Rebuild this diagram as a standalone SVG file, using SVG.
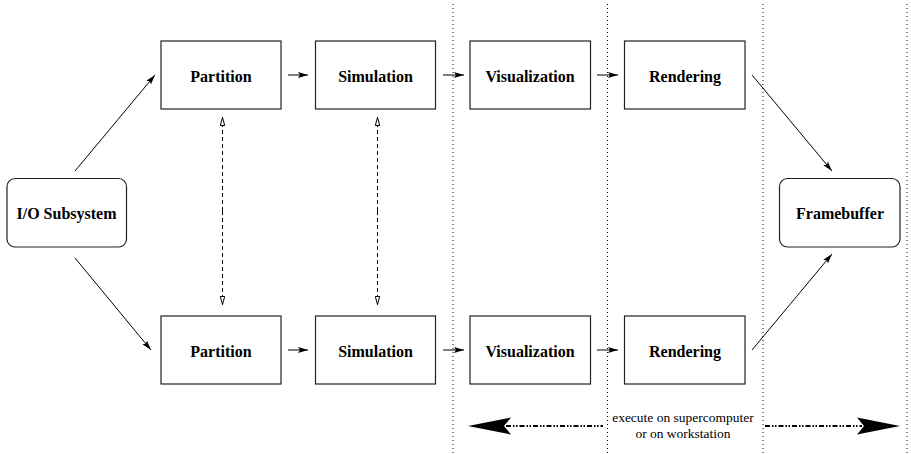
<svg xmlns="http://www.w3.org/2000/svg" width="911" height="454" viewBox="0 0 911 454">
<style>
.box{fill:#fff;stroke:#222;stroke-width:1.2}
.lbl{font-family:"Liberation Serif",serif;font-weight:bold;font-size:16px;text-anchor:middle;fill:#000}
.note{font-family:"Liberation Serif",serif;font-size:13.5px;text-anchor:middle;fill:#000}
.c{stroke:#000;stroke-width:1;fill:none}
.dash{stroke:#000;stroke-width:1;fill:none;stroke-dasharray:4 3}
.dot{stroke:#000;stroke-width:1;fill:none;stroke-dasharray:1 3}
.dd{stroke:#000;stroke-width:2.2;fill:none;stroke-dasharray:5 2 1.5 1.5 1.5 2}
</style>
<defs>
<marker id="ah" markerUnits="userSpaceOnUse" markerWidth="12" markerHeight="8" refX="10" refY="3.5" orient="auto">
<path d="M0,0.5 L10,3.5 L0,6.5 L2,3.5 Z" fill="#000"/>
</marker>
<marker id="oh" markerUnits="userSpaceOnUse" markerWidth="10" markerHeight="8" refX="9" refY="3" orient="auto">
<path d="M0.5,0.8 L8.5,3 L0.5,5.2 Z" fill="#fff" stroke="#000" stroke-width="1"/>
</marker>
</defs>
<g id="separators">
<line class="dot" x1="453" y1="4" x2="453" y2="454"/>
<line class="dot" x1="607.5" y1="4" x2="607.5" y2="454"/>
<line class="dot" x1="763" y1="4" x2="763" y2="454"/>
<line class="dot" x1="907" y1="4" x2="907" y2="454"/>
</g>
<g id="connectors">
<line class="c" x1="75" y1="171" x2="155" y2="75" marker-end="url(#ah)"/>
<line class="c" x1="75" y1="258" x2="151" y2="350" marker-end="url(#ah)"/>
<line class="c" x1="752" y1="75" x2="832" y2="171" marker-end="url(#ah)"/>
<line class="c" x1="752" y1="350" x2="832" y2="254" marker-end="url(#ah)"/>
<line class="c" x1="288" y1="75" x2="308" y2="75" marker-end="url(#ah)"/>
<line class="c" x1="443" y1="75" x2="464" y2="75" marker-end="url(#ah)"/>
<line class="c" x1="597" y1="75" x2="618" y2="75" marker-end="url(#ah)"/>
<line class="c" x1="288" y1="350" x2="308" y2="350" marker-end="url(#ah)"/>
<line class="c" x1="443" y1="350" x2="464" y2="350" marker-end="url(#ah)"/>
<line class="c" x1="597" y1="350" x2="618" y2="350" marker-end="url(#ah)"/>
<line class="dash" x1="222.5" y1="211" x2="222.5" y2="117" marker-end="url(#oh)"/>
<line class="dash" x1="222.5" y1="211" x2="222.5" y2="305" marker-end="url(#oh)"/>
<line class="dash" x1="377.5" y1="211" x2="377.5" y2="117" marker-end="url(#oh)"/>
<line class="dash" x1="377.5" y1="211" x2="377.5" y2="305" marker-end="url(#oh)"/>
<line class="dd" x1="506" y1="426" x2="603" y2="426"/>
<polygon points="468,426 511,417.5 504,426 511,434.5" fill="#000"/>
<line class="dd" x1="765" y1="426" x2="862" y2="426"/>
<polygon points="900,426 857,417.5 864,426 857,434.5" fill="#000"/>
</g>
<g id="io">
<rect class="box" x="7" y="178.5" width="119.5" height="68.5" rx="8"/>
<text class="lbl" x="66.5" y="219">I/O Subsystem</text>
</g>
<g id="partition1">
<rect class="box" x="161" y="41" width="120" height="68"/>
<text class="lbl" x="221" y="81.5">Partition</text>
</g>
<g id="simulation1">
<rect class="box" x="315.5" y="41" width="120" height="68"/>
<text class="lbl" x="375.5" y="81.5">Simulation</text>
</g>
<g id="visualization1">
<rect class="box" x="470" y="41" width="120.5" height="68"/>
<text class="lbl" x="530" y="81.5">Visualization</text>
</g>
<g id="rendering1">
<rect class="box" x="624.5" y="41" width="120.5" height="68"/>
<text class="lbl" x="685" y="81.5">Rendering</text>
</g>
<g id="partition2">
<rect class="box" x="161" y="316" width="120" height="68"/>
<text class="lbl" x="221" y="356.5">Partition</text>
</g>
<g id="simulation2">
<rect class="box" x="315.5" y="316" width="120" height="68"/>
<text class="lbl" x="375.5" y="356.5">Simulation</text>
</g>
<g id="visualization2">
<rect class="box" x="470" y="316" width="120.5" height="68"/>
<text class="lbl" x="530" y="356.5">Visualization</text>
</g>
<g id="rendering2">
<rect class="box" x="624.5" y="316" width="120.5" height="68"/>
<text class="lbl" x="685" y="356.5">Rendering</text>
</g>
<g id="framebuffer">
<rect class="box" x="779.5" y="178.5" width="120.5" height="68.5" rx="8"/>
<text class="lbl" x="840" y="219">Framebuffer</text>
</g>
<g id="note">
<text class="note" x="683" y="421.5">execute on supercomputer</text>
<text class="note" x="683" y="437.5">or on workstation</text>
</g>
</svg>
